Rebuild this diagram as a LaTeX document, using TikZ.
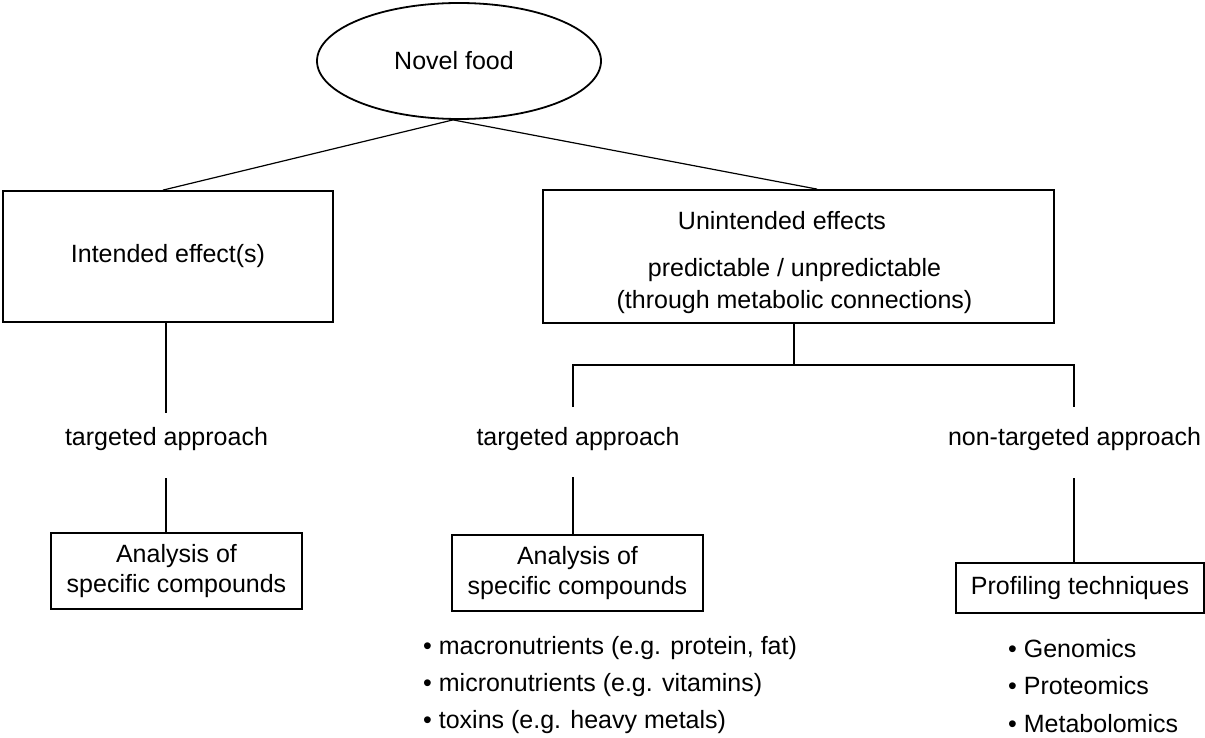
\documentclass[tikz,border=0pt]{standalone}
\usepackage{fontspec}
\setmainfont{Liberation Sans}
\usetikzlibrary{shapes.geometric}
\begin{document}
\begin{tikzpicture}[x=1pt,y=-1pt,
  every node/.style={font=\fontsize{25}{30}\selectfont},
  bigbox/.style={draw, line width=1.8pt, inner sep=0pt},
  smallbox/.style={draw, line width=1.5pt, inner sep=0pt, align=center},
  txt/.style={inner sep=0pt, text height=18pt, text depth=5pt},
  conn/.style={line width=1.2pt}]
\useasboundingbox (0,0) rectangle (1205,738);

% top
\node[ellipse, draw, line width=1.8pt, minimum width=284pt, minimum height=116pt, inner sep=0pt] (nf) at (459,61) {Novel food\hspace*{10pt}};

% second level
\node[bigbox, minimum width=330pt, minimum height=131pt] (ie) at (168,256.5) {Intended effect(s)};
\node[bigbox, minimum width=511pt, minimum height=133pt] (ue) at (798.5,256.5) {};
\node[txt] (ut1) at (782,223) {Unintended effects};
\node[txt] (ut2) at (794.5,270) {predictable / unpredictable};
\node[txt] (ut3) at (794.5,302) {(through metabolic connections)};

% approaches
\node[txt] (ta1) at (166.5,439) {targeted approach};
\node[txt] (ta2) at (578,439) {targeted approach};
\node[txt] (ta3) at (1074.5,439) {non-targeted approach};

% bottom boxes
\node[smallbox, minimum width=251pt, minimum height=76pt] (ac1) at (176.5,571) {Analysis of\\specific compounds};
\node[smallbox, minimum width=251pt, minimum height=76pt] (ac2) at (577.5,573) {Analysis of\\specific compounds};
\node[smallbox, minimum width=248pt, minimum height=50pt] (pt) at (1080,588) {Profiling techniques};

% bullet lists
\node[txt, anchor=west] (b1) at (423,648) {• macronutrients (e.g. protein, fat)};
\node[txt, anchor=west] (b2) at (423,685) {• micronutrients (e.g. vitamins)};
\node[txt, anchor=west] (b3) at (423,722) {• toxins (e.g. heavy metals)};
\node[txt, anchor=west] (p1) at (1008,651) {• Genomics};
\node[txt, anchor=west] (p2) at (1008,688) {• Proteomics};
\node[txt, anchor=west] (p3) at (1008,726) {• Metabolomics};

% connectors
\draw[conn] ([xshift=-6pt]nf.south) -- ([xshift=-5pt]ie.north);
\draw[conn] ([xshift=-6pt]nf.south) -- ([xshift=18.5pt]ue.north);

\coordinate (g1t) at (166,413);
\coordinate (g1b) at (166,478);
\draw[conn] (ie.south -| g1t) -- (g1t);
\draw[conn] (g1b) -- (ac1.north -| g1b);

\coordinate (br) at (794,365);
\coordinate (g2t) at (573,407);
\coordinate (g3t) at (1074,407);
\draw[conn] (ue.south -| br) -- (br);
\draw[conn] (g2t) -- (g2t |- br) -- (g3t |- br) -- (g3t);

\coordinate (g2b) at (573,477);
\coordinate (g3b) at (1074,478);
\draw[conn] (g2b) -- (ac2.north -| g2b);
\draw[conn] (g3b) -- (pt.north -| g3b);
\end{tikzpicture}
\end{document}
